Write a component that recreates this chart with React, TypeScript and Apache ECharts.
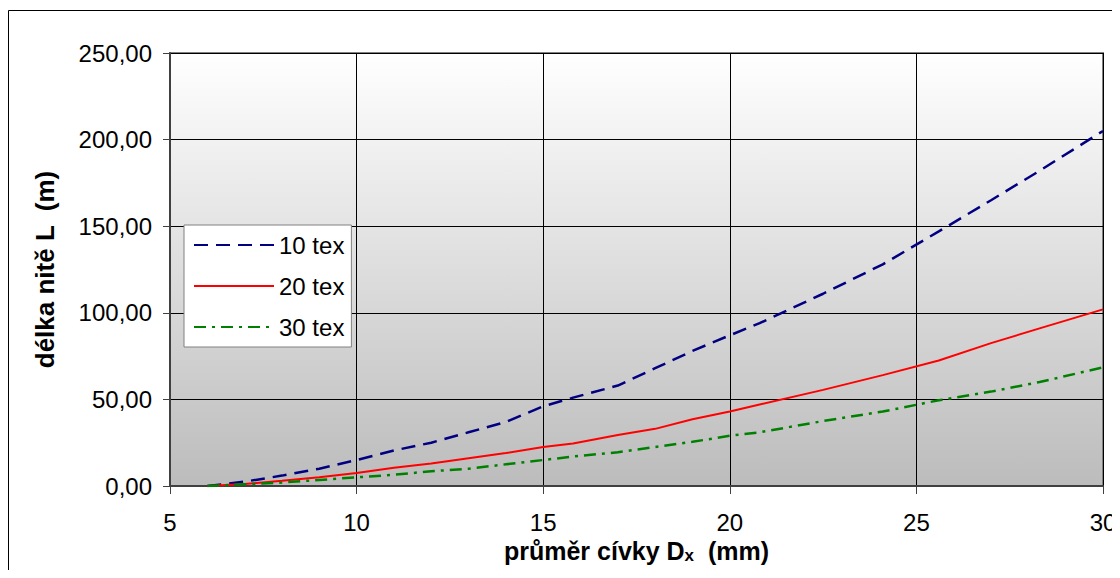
import React, { useEffect, useRef } from "react";
import * as echarts from "echarts";

const diameters = [6, 7, 8, 9, 10, 11, 12, 13, 14, 15, 15.8, 17, 18, 19, 20, 20.8, 22.5, 24.1, 25.6, 27, 28.3, 30];
const tex10 = [0, 2.5, 6, 10, 15, 20.5, 25, 31, 37, 46, 51, 58, 68, 78, 87, 94, 111, 128, 147, 165, 182, 205];
const tex20 = [0, 1.2, 3, 5, 7.5, 10.5, 13, 16, 19, 22.5, 24.5, 29.5, 33, 38.5, 43, 47, 55.5, 64, 72.5, 82.5, 91, 102];
const tex30 = [0, 1, 2, 3.5, 5, 6.5, 8.5, 10, 12.5, 15, 17, 19.5, 22.5, 25.5, 29, 31, 37.5, 43, 49.5, 54.5, 60, 68.5];
const seriesNames = ["10 tex", "20 tex", "30 tex"];

const FONT = "Liberation Sans, Arial, sans-serif";

export default function App() {
  const ref = useRef<HTMLDivElement>(null);
  useEffect(() => {
    if (!ref.current) return;
    const chart = echarts.init(ref.current, null, { renderer: "svg" });
    const pair = (ys: number[]) => diameters.map((d, i) => [d, ys[i]]);
    chart.setOption({
      animation: false,
      textStyle: { fontFamily: FONT },
      graphic: [
        {
          type: "polyline",
          shape: { points: [[0.5, 570], [0.5, 2.5], [1110.5, 2.5], [1110.5, 570]] },
          style: { fill: "none", stroke: "#000", lineWidth: 1 },
          silent: true,
        },
      ],
      grid: {
        left: 162,
        right: 17,
        top: 45,
        bottom: 92,
        outerBoundsMode: "none",
        containLabel: false,
        show: true,
        borderColor: "#808080",
        borderWidth: 2,
        backgroundColor: new echarts.graphic.LinearGradient(0, 0, 0, 1, [
          { offset: 0, color: "#ffffff" },
          { offset: 1, color: "#bcbcbc" },
        ]),
      },
      legend: {
        left: 176,
        top: 217,
        orient: "vertical",
        backgroundColor: "#ffffff",
        borderColor: "#808080",
        borderWidth: 1,
        padding: [8, 7, 8, 9],
        itemWidth: 80,
        itemHeight: 24,
        itemGap: 17,
        itemStyle: { opacity: 0 },
        textStyle: { fontSize: 24, color: "#000", fontFamily: FONT },
        data: seriesNames,
      },
      xAxis: {
        type: "value",
        min: 5,
        max: 30,
        interval: 5,
        name: "průměr cívky D{sub|x}  (mm)",
        nameLocation: "middle",
        nameGap: 50,
        nameTextStyle: {
          fontSize: 25,
          fontWeight: "bold",
          color: "#000",
          fontFamily: FONT,
          rich: {
            sub: { fontSize: 17, fontWeight: "bold", fontFamily: FONT, color: "#000", padding: [8, 0, 0, 0] },
          },
        },
        axisLine: { show: true, lineStyle: { color: "#404040", width: 2 } },
        axisTick: { show: true, inside: false, length: 8, lineStyle: { color: "#404040", width: 1 } },
        axisLabel: { fontSize: 24, color: "#000", margin: 24, fontFamily: FONT },
        splitLine: { show: true, lineStyle: { color: "#000", width: 1 } },
      },
      yAxis: {
        type: "value",
        min: 0,
        max: 250,
        interval: 50,
        name: "délka nitě L  (m)",
        nameLocation: "middle",
        nameGap: 112,
        nameTextStyle: { fontSize: 26, fontWeight: "bold", color: "#000", fontFamily: FONT },
        axisLine: { show: true, lineStyle: { color: "#404040", width: 2 } },
        axisTick: { show: true, inside: false, length: 7, lineStyle: { color: "#404040", width: 1 } },
        axisLabel: {
          fontSize: 24,
          color: "#000",
          margin: 18,
          fontFamily: FONT,
          formatter: (v: number) => v.toFixed(2).replace(".", ","),
        },
        splitLine: { show: true, lineStyle: { color: "#000", width: 1 } },
      },
      series: [
        {
          name: seriesNames[0],
          type: "line",
          data: pair(tex10),
          showSymbol: false,
          symbol: "none",
          color: "#000080",
          lineStyle: { color: "#000080", width: 2.5, type: [14, 8] },
        },
        {
          name: seriesNames[1],
          type: "line",
          data: pair(tex20),
          showSymbol: false,
          symbol: "none",
          color: "#ff0000",
          lineStyle: { color: "#ff0000", width: 2 },
        },
        {
          name: seriesNames[2],
          type: "line",
          data: pair(tex30),
          showSymbol: false,
          symbol: "none",
          color: "#008000",
          lineStyle: { color: "#008000", width: 2.5, type: [12, 6, 3, 6] },
        },
      ],
    });
    return () => chart.dispose();
  }, []);
  return (
    <div style={{ width: 1112, height: 570, overflow: "hidden", marginBottom: -8 }}>
      <div ref={ref} style={{ width: 1112, height: 570 }} />
    </div>
  );
}
